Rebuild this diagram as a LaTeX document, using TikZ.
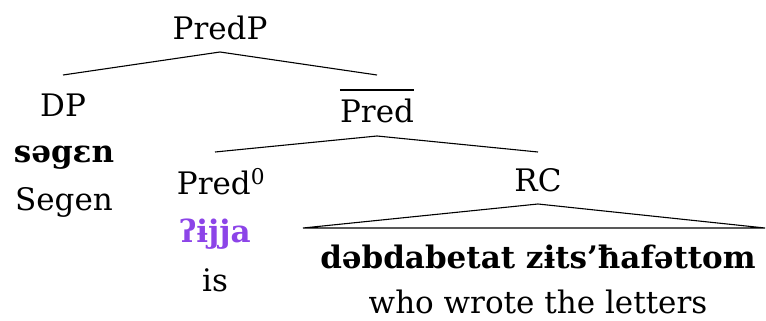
\documentclass[tikz,border=0pt]{standalone}
\usepackage{fontspec}
\setmainfont{DejaVu Serif}
\definecolor{ipapurple}{RGB}{140,68,232}
\begin{document}
\begin{tikzpicture}[x=1pt,y=-1pt,
  lab/.style={inner sep=0pt, anchor=base, font=\fontsize{31}{37}\selectfont},
  gl/.style={lab, font=\fontsize{31}{37}\selectfont\bfseries},
  branch/.style={line width=1.1pt}]
\useasboundingbox (0,0) rectangle (766,321);
\node[lab] (predp) at (220,40) {PredP};
\node[lab] (dp) at (63,116) {DP};
\node[gl] (dpw) at (64,162) {səgɛn};
\node[lab] (dpg) at (64,210) {Segen};
\node[lab] (pbar) at (377,122) {Pred};
\node[lab] (p0) at (221,194) {Pred\textsuperscript{0}};
\node[gl, text=ipapurple] (p0w) at (215,242) {ʔɨjja};
\node[lab] (p0g) at (215,291) {is};
\node[lab] (rc) at (538,191) {RC};
\node[gl] (rcw) at (538,268) {dəbdabetat zɨts’ħafəttom};
\node[lab] (rcg) at (538,313) {who wrote the letters};
\draw[branch] ([yshift=-12pt]predp.base) -- ([yshift=41pt]dp.base);
\draw[branch] ([yshift=-12pt]predp.base) -- ([yshift=47pt]pbar.base);
\draw[branch] ([yshift=32pt]pbar.base west) -- ([yshift=32pt]pbar.base east);
\draw[branch] ([yshift=-14pt]pbar.base) -- ([shift={(-6pt,42pt)}]p0.base);
\draw[branch] ([yshift=-14pt]pbar.base) -- ([yshift=39pt]rc.base);
\draw[branch] ([shift={(-235pt,-37pt)}]rc.base) -- ([yshift=-13pt]rc.base) -- ([shift={(227pt,-37pt)}]rc.base) -- cycle;
\end{tikzpicture}
\end{document}
